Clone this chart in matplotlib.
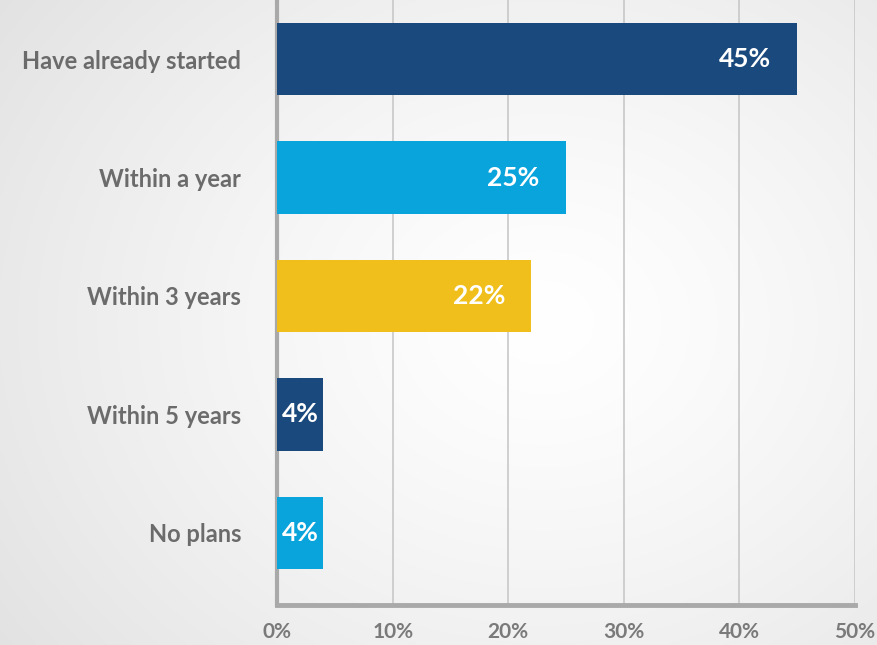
import numpy as np
import matplotlib
matplotlib.use("Agg")
import matplotlib.pyplot as plt

# Survey answers, top to bottom
categories = ["Have already started", "Within a year", "Within 3 years",
              "Within 5 years", "No plans"]
values = [45, 25, 22, 4, 4]
bar_colors = ["#1a497d", "#0aa4dc", "#f0bf1b", "#1a497d", "#0aa4dc"]
x_ticks = [0, 10, 20, 30, 40, 50]
x_tick_labels = ["0%", "10%", "20%", "30%", "40%", "50%"]

LABEL_GREY = "#6b6b6b"
TICK_GREY = "#7a7a7a"
AXIS_GREY = "#a9a9a9"
GRID_GREY = "#c8c8c8"

plt.rcParams["font.family"] = ["Lato", "DejaVu Sans"]

fig = plt.figure(figsize=(8.77, 6.45), dpi=100)

# soft radial background, lightest near the middle of the plot
bg = fig.add_axes([0, 0, 1, 1], zorder=-10)
yy, xx = np.mgrid[0:1:300j, 0:1:400j]
r = np.sqrt(((xx - 0.62) / 0.75) ** 2 + ((yy - 0.5) / 0.85) ** 2)
shade = 1.0 - 0.11 * np.clip(r, 0, 1) ** 1.3
bg.imshow(np.dstack([shade] * 3), extent=[0, 1, 0, 1], aspect="auto",
          interpolation="bicubic")
bg.set_axis_off()

ax = fig.add_axes([0.316, 0.062, 0.659, 0.938])
ax.set_facecolor("none")

y = np.arange(len(categories))
bars = ax.barh(y, values, height=0.61, color=bar_colors, zorder=3)

ax.set_xlim(0, 50)
ax.set_ylim(4.61, -0.5)

ax.set_xticks(x_ticks)
ax.set_xticklabels(x_tick_labels, fontsize=15, fontweight="bold", color=TICK_GREY)
ax.tick_params(axis="x", length=0, pad=12)
ax.set_yticks(y)
ax.set_yticklabels(categories, fontsize=17, fontweight="bold", color=LABEL_GREY)
ax.tick_params(axis="y", length=0, pad=26)

ax.grid(axis="x", color=GRID_GREY, linewidth=1.2, zorder=0)
for side in ["top", "right"]:
    ax.spines[side].set_visible(False)
ax.spines["left"].set_color(AXIS_GREY)
ax.spines["left"].set_linewidth(3)
ax.spines["bottom"].set_color(AXIS_GREY)
ax.spines["bottom"].set_linewidth(3.5)

# value labels inside the bars
for bar, v in zip(bars, values):
    cy = bar.get_y() + bar.get_height() / 2
    if v < 10:
        ax.text(v / 2, cy, f"{v}%", ha="center", va="center", color="white",
                fontsize=19, fontweight="bold", zorder=4)
    else:
        ax.annotate(f"{v}%", (v, cy), xytext=(-19, 0), textcoords="offset points",
                    ha="right", va="center", color="white", fontsize=19,
                    fontweight="bold", zorder=4)

fig.savefig("out.png", dpi=100)
